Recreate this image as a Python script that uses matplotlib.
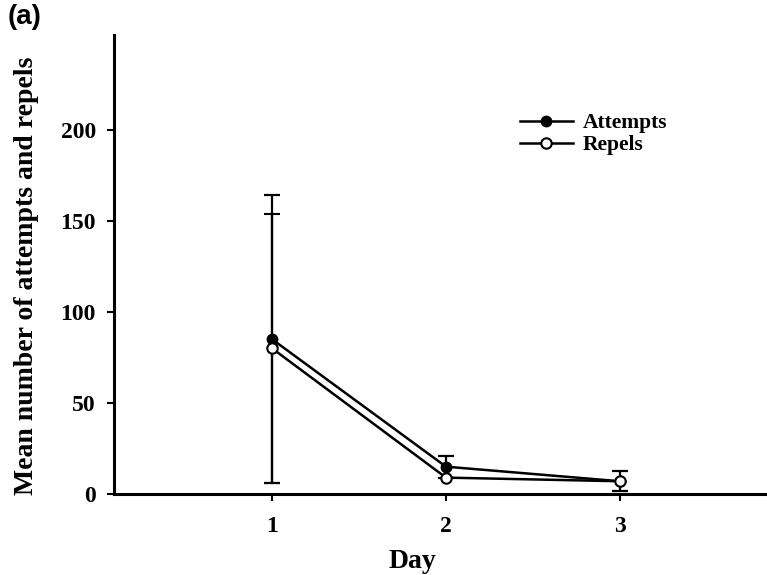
import matplotlib.pyplot as plt

# Datos
dias = [1, 2, 3]
intentos = [85, 15, 7]
intentos_err = [79, 6, 5.5]
rechazos = [80, 9, 7]
rechazos_err = [74, float('nan'), float('nan')]

plt.rcParams['font.family'] = ['Liberation Serif', 'DejaVu Serif']
plt.rcParams['font.weight'] = 'bold'

fig = plt.figure(figsize=(7.67, 5.75), dpi=100)
ax = fig.add_axes([114 / 767, 1 - 494 / 575, 653 / 767, 459 / 575])

att = ax.errorbar(dias, intentos, yerr=intentos_err, color='black', lw=1.8,
                  marker='o', ms=7.5, mfc='black', mec='black', capsize=6,
                  capthick=1.6, elinewidth=1.6, zorder=3)
rep = ax.errorbar(dias, rechazos, yerr=rechazos_err, color='black', lw=1.8,
                  marker='o', ms=7.5, mfc='white', mec='black', mew=1.5,
                  capsize=6, capthick=1.6, elinewidth=1.6, zorder=4)

ax.set_xlim(0.092, 3.845)
ax.set_ylim(0, 252)
ax.set_xticks(dias)
ax.set_yticks([0, 50, 100, 150, 200])

ax.spines['top'].set_visible(False)
ax.spines['right'].set_visible(False)
ax.spines['left'].set_linewidth(2.2)
ax.spines['bottom'].set_linewidth(2.2)
ax.tick_params(axis='y', labelsize=17, width=1.5, length=5, pad=8)
ax.tick_params(axis='x', labelsize=17, width=1.5, length=5, pad=11)
for lbl in ax.get_xticklabels() + ax.get_yticklabels():
    lbl.set_fontweight('bold')

fig.text(412 / 767, 1 - 568 / 575, 'Day', fontsize=20, fontweight='bold',
         ha='center', va='baseline')
fig.text(27 / 767, 1 - 276 / 575, 'Mean number of attempts and repels',
         fontsize=20, fontweight='bold', rotation=90,
         ha='center', va='center')

leg = ax.legend([att[0], rep[0]], ['Attempts', 'Repels'], loc='upper left',
                bbox_to_anchor=(520 / 767, 1 - 113 / 575),
                bbox_transform=fig.transFigure, frameon=False,
                fontsize=15.5, handlelength=2.45, handletextpad=0.45,
                labelspacing=0.1, borderpad=0, borderaxespad=0)
for t in leg.get_texts():
    t.set_fontweight('bold')

fig.text(8 / 767, 1 - 4 / 575, '(a)', fontsize=20, fontweight='bold',
         ha='left', va='top', family=['Liberation Sans', 'DejaVu Sans'])

fig.savefig('out.png', dpi=100)
